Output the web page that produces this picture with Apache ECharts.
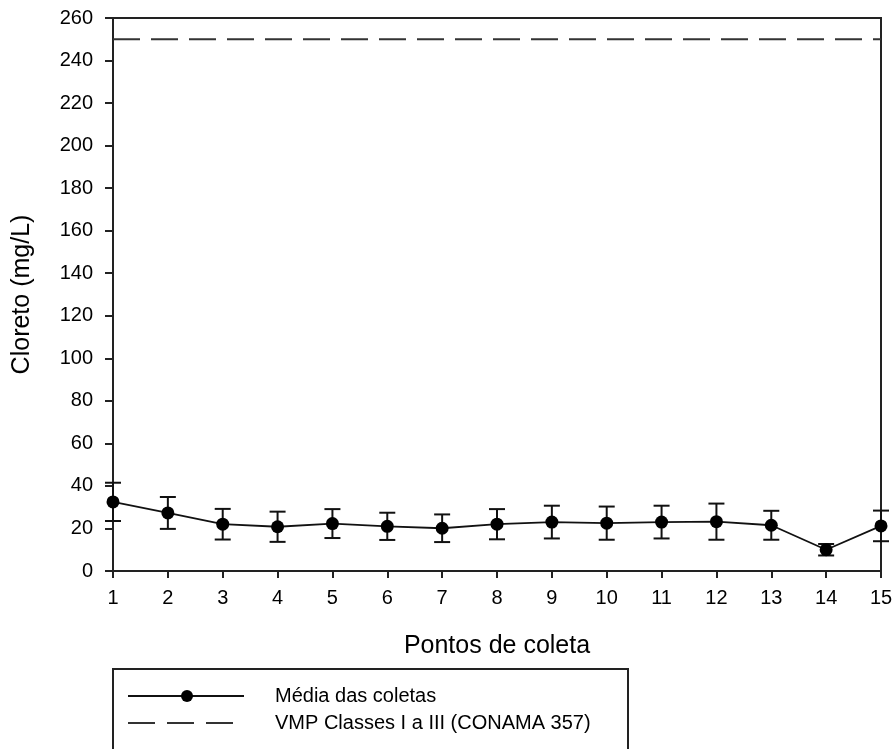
<!DOCTYPE html>
<html>
<head>
<meta charset="utf-8">
<script src="https://cdn.jsdelivr.net/npm/echarts@6/dist/echarts.min.js"></script>
<style>
  html, body { margin: 0; padding: 0; background: #fff; }
  #chart { width: 896px; height: 749px; }
</style>
</head>
<body>
<div id="chart"></div>
<script>
// Sampling points along the river
const points = [1, 2, 3, 4, 5, 6, 7, 8, 9, 10, 11, 12, 13, 14, 15];
// Mean chloride per point (mg/L)
const meanChloride = [32.5, 27.3, 22, 20.8, 22.3, 21, 20.1, 22, 23, 22.5, 23, 23.2, 21.5, 10, 21.2];
// Standard deviation per point (mg/L)
const stdDev = [9, 7.5, 7.2, 7.1, 6.8, 6.4, 6.5, 7.1, 7.7, 7.8, 7.7, 8.5, 6.8, 2.7, 7.2];
// Maximum permitted value, CONAMA 357, classes I to III
const vmpLimit = 250;
const yTicks = { min: 0, max: 260, step: 20 };
const legendLabels = ['Média das coletas', 'VMP Classes I a III (CONAMA 357)'];

const meanData = points.map((p, i) => [p, meanChloride[i]]);
const errData = points.map((p, i) => [p, meanChloride[i] - stdDev[i], meanChloride[i] + stdDev[i]]);
const limitData = [[points[0], vmpLimit], [points[points.length - 1], vmpLimit]];

const FONT = 'Liberation Sans, Arial, sans-serif';
const INK = '#111';
const chart = echarts.init(document.getElementById('chart'), null, { renderer: 'canvas' });

// Boxed key below the plot: solid line with a dot, then the dashed limit line
const keyBox = { x: 113, y: 669, w: 515, h: 110 };
const keyRow1 = 696, keyRow2 = 723;
const keyGraphics = [
  { type: 'rect', shape: { x: keyBox.x, y: keyBox.y, width: keyBox.w, height: keyBox.h },
    style: { fill: 'none', stroke: '#222', lineWidth: 2 } },
  { type: 'line', shape: { x1: 128, y1: keyRow1, x2: 244, y2: keyRow1 },
    style: { stroke: INK, lineWidth: 2 } },
  { type: 'circle', shape: { cx: 187, cy: keyRow1, r: 6 }, style: { fill: '#000' } },
  { type: 'text', x: 275, y: keyRow1, style: { text: legendLabels[0], font: '20px ' + FONT,
    fill: '#000', verticalAlign: 'middle' } },
  { type: 'line', shape: { x1: 128, y1: keyRow2, x2: 236, y2: keyRow2 },
    style: { stroke: '#333', lineWidth: 2, lineDash: [27, 12] } },
  { type: 'text', x: 275, y: keyRow2, style: { text: legendLabels[1], font: '20px ' + FONT,
    fill: '#000', verticalAlign: 'middle' } }
];

chart.setOption({
  backgroundColor: '#fff',
  animation: false,
  grid: {
    left: 113, right: 15, top: 18, bottom: 178,
    show: true, borderColor: '#222', borderWidth: 2, backgroundColor: 'transparent'
  },
  xAxis: {
    type: 'value', min: 1, max: 15, interval: 1,
    name: 'Pontos de coleta', nameLocation: 'middle', nameGap: 63,
    nameTextStyle: { fontFamily: FONT, fontSize: 25, color: '#000' },
    axisLine: { lineStyle: { color: '#222', width: 2 } },
    axisTick: { inside: false, length: 7, lineStyle: { color: '#222', width: 2 } },
    axisLabel: { fontFamily: FONT, fontSize: 20, color: '#000', margin: 17 },
    splitLine: { show: false }
  },
  yAxis: {
    type: 'value', min: yTicks.min, max: yTicks.max, interval: yTicks.step,
    name: 'Cloreto (mg/L)', nameLocation: 'middle', nameGap: 78,
    nameTextStyle: { fontFamily: FONT, fontSize: 25, color: '#000' },
    axisLine: { lineStyle: { color: '#222', width: 2 } },
    axisTick: { inside: false, length: 8, lineStyle: { color: '#222', width: 2 } },
    axisLabel: { fontFamily: FONT, fontSize: 20, color: '#000', margin: 20 },
    splitLine: { show: false }
  },
  graphic: keyGraphics,
  series: [
    {
      name: legendLabels[0],
      type: 'line',
      data: meanData,
      z: 4,
      symbol: 'circle', symbolSize: 13,
      itemStyle: { color: '#000' },
      lineStyle: { color: INK, width: 1.8 }
    },
    {
      name: 'Desvio padrão',
      type: 'custom',
      data: errData,
      z: 3,
      renderItem: function (params, api) {
        const x = api.value(0);
        const top = api.coord([x, api.value(2)]);
        const bot = api.coord([x, api.value(1)]);
        const hw = 8;
        const st = { stroke: INK, lineWidth: 2 };
        return {
          type: 'group',
          children: [
            { type: 'line', shape: { x1: top[0], y1: top[1], x2: bot[0], y2: bot[1] }, style: st },
            { type: 'line', shape: { x1: top[0] - hw, y1: top[1], x2: top[0] + hw, y2: top[1] }, style: st },
            { type: 'line', shape: { x1: bot[0] - hw, y1: bot[1], x2: bot[0] + hw, y2: bot[1] }, style: st }
          ]
        };
      }
    },
    {
      name: legendLabels[1],
      type: 'line',
      data: limitData,
      z: 2,
      symbol: 'none',
      itemStyle: { color: '#333' },
      lineStyle: { color: '#333', width: 2, type: [27, 11] }
    }
  ]
});
</script>
</body>
</html>
